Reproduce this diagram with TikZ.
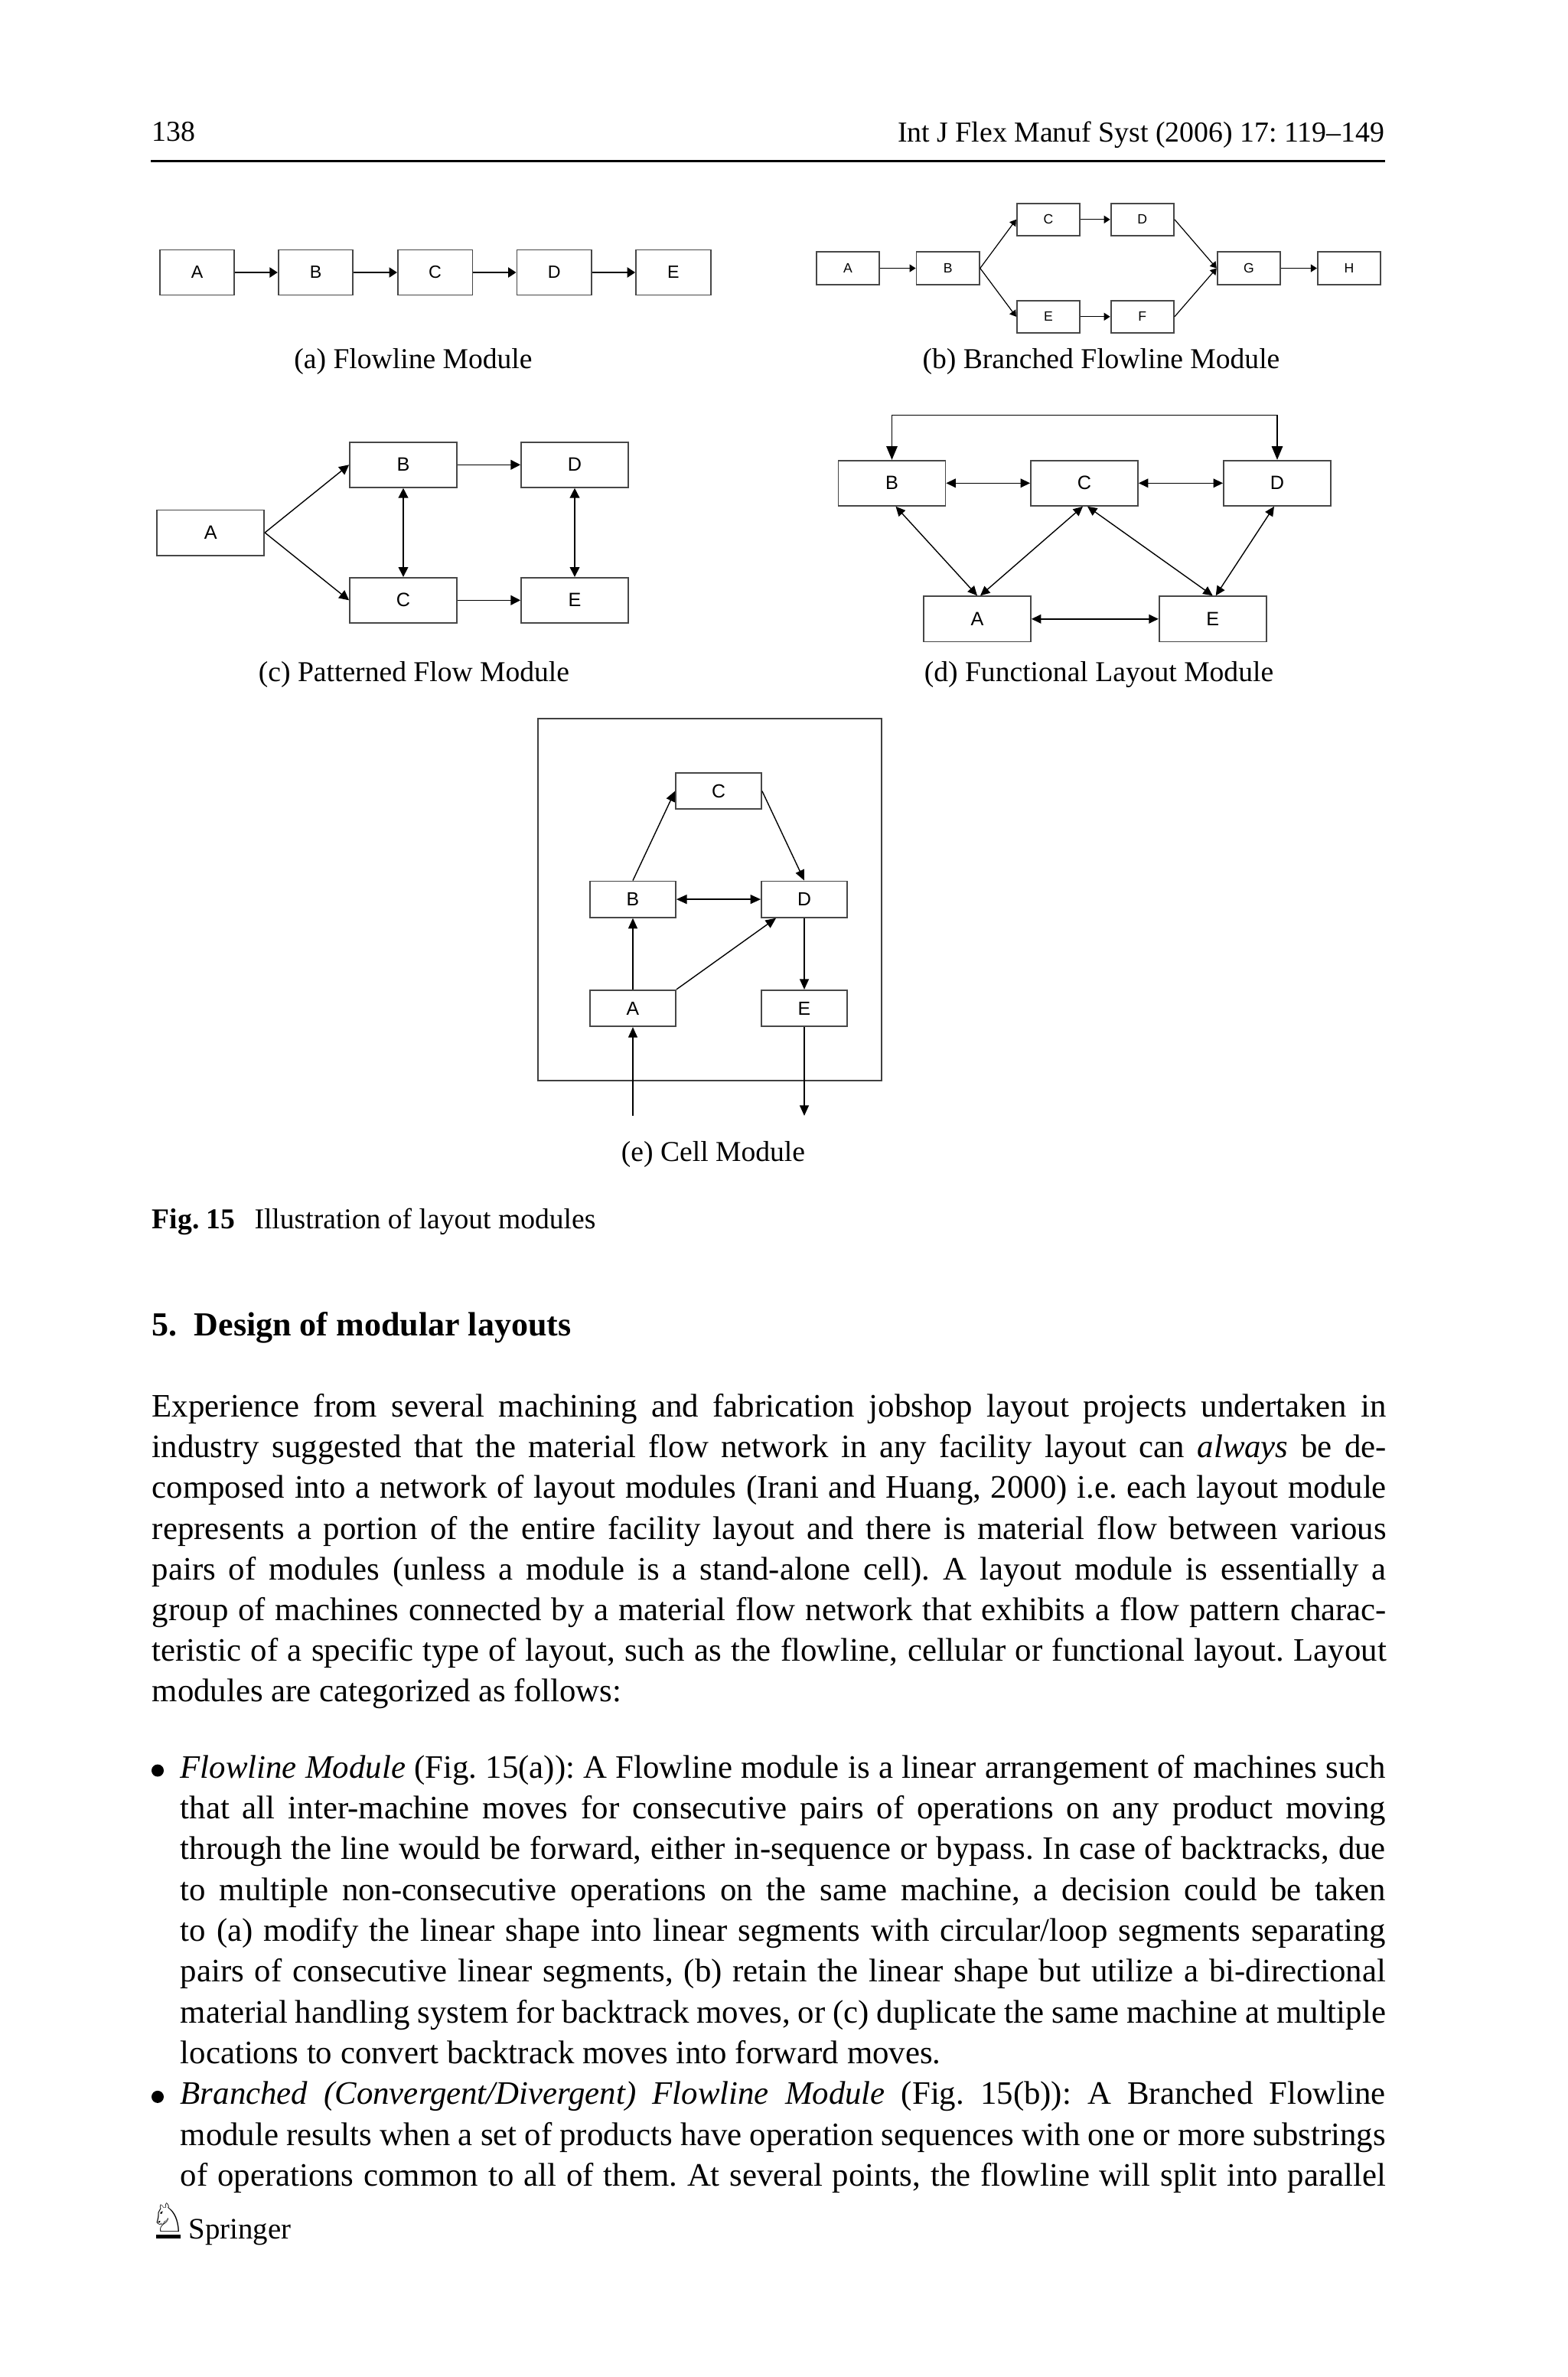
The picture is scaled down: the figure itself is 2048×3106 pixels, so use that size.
\documentclass[tikz,border=0pt]{standalone}
\usepackage{fontspec}
\setmainfont{Liberation Serif}
\setsansfont{Liberation Sans}
\newfontfamily\symfnt{DejaVu Sans}
\usetikzlibrary{arrows.meta,calc}
\newlength\tw \setlength\tw{403.25pt}
\newlength\iw \setlength\iw{393.75pt}
\newcommand\jl[2]{\makebox[#1][s]{\spaceskip=0.25em plus 1em minus 0.13em\relax #2}}
\newcommand\nl[1]{{\spaceskip=0.25em plus 0.1em minus 0.05em\relax #1}}
\frenchspacing
\begin{document}
\begin{tikzpicture}[x=0.25pt,y=-0.25pt,
  bx/.style={draw=black!72, line width=0.45pt, inner sep=0pt, fill=white},
  bxa/.style={bx, minimum width=24.4pt, minimum height=14.75pt, font=\fontsize{5.8pt}{6pt}\sffamily},
  bxb/.style={bx, minimum width=20.6pt, minimum height=10.6pt, font=\fontsize{4.4pt}{5pt}\sffamily},
  bxc/.style={bx, minimum width=35pt, minimum height=14.8pt, font=\fontsize{6.3pt}{7pt}\sffamily},
  bxe/.style={bx, minimum width=28pt, minimum height=11.85pt, font=\fontsize{6.2pt}{7pt}\sffamily},
  arA/.style={-{Triangle[length=2.6pt,width=3.3pt]}, line width=0.4pt},
  arB/.style={-{Triangle[length=2pt,width=2.5pt]}, line width=0.3pt},
  arC/.style={-{Triangle[length=3.2pt,width=3.2pt]}, line width=0.35pt},
  dbC/.style={{Triangle[length=3.2pt,width=3.2pt]}-{Triangle[length=3.2pt,width=3.2pt]}, line width=0.35pt},
  dbD/.style={{Triangle[length=3.1pt,width=2.9pt]}-{Triangle[length=3.1pt,width=2.9pt]}, line width=0.35pt},
  dbDt/.style={{Triangle[length=4.4pt,width=3.6pt]}-{Triangle[length=4.4pt,width=3.6pt]}, line width=0.35pt},
  arE/.style={-{Triangle[length=3.4pt,width=3pt]}, line width=0.35pt},
  dbE/.style={{Triangle[length=3.4pt,width=3pt]}-{Triangle[length=3.4pt,width=3pt]}, line width=0.35pt},
  subcap/.style={anchor=base, inner sep=0pt, font=\fontsize{9.4pt}{11pt}\selectfont},
  txt/.style={anchor=base west, inner sep=0pt, font=\fontsize{10.7pt}{13.3pt}\selectfont},
  hdr/.style={inner sep=0pt, font=\fontsize{9.45pt}{11pt}\selectfont},
  bul/.style={circle, fill=black, inner sep=0pt, minimum size=4pt}
]
\fill[white] (0,0) rectangle (2048,3106);
\useasboundingbox (0,0) rectangle (2048,3106);

% header
\node[hdr, anchor=base west] (pg) at (198,184.5) {138};
\node[hdr, anchor=base east] (jr) at (1810,185.5) {Int J Flex Manuf Syst (2006) 17: 119--149};
\draw[line width=0.75pt] (197,210.7) -- (1810,210.7);

% (a) Flowline
\node[bxa] (aA) at (257.5,356) {A};
\node[bxa] (aB) at (412.5,356) {B};
\node[bxa] (aC) at (568.6,356) {C};
\node[bxa] (aD) at (724.2,356) {D};
\node[bxa] (aE) at (879.8,356) {E};
\draw[arA] (aA) -- (aB);
\draw[arA] (aB) -- (aC);
\draw[arA] (aC) -- (aD);
\draw[arA] (aD) -- (aE);
\node[subcap] (capa) at (540,481.7) {(a) Flowline Module};

% (b) Branched flowline
\node[bxb] (bA) at (1108,350.5) {A};
\node[bxb] (bB) at (1238.7,350.5) {B};
\node[bxb] (bC) at (1370,286.8) {C};
\node[bxb] (bD) at (1492.8,286.8) {D};
\node[bxb] (bE) at (1370,413.8) {E};
\node[bxb] (bF) at (1492.8,413.8) {F};
\node[bxb] (bG) at (1631.9,350.5) {G};
\node[bxb] (bH) at (1763,350.5) {H};
\draw[arB] (bA) -- (bB);
\draw[arB] (bB.east) -- (bC.west);
\draw[arB] (bB.east) -- (bE.west);
\draw[arB] (bC) -- (bD);
\draw[arB] (bE) -- (bF);
\draw[arB] (bD.east) -- (bG.west);
\draw[arB] (bF.east) -- (bG.west);
\draw[arB] (bG) -- (bH);
\node[subcap] (capb) at (1439,481.7) {(b) Branched Flowline Module};

% (c) Patterned flow
\node[bxc] (cA) at (275.2,696) {A};
\node[bxc] (cB) at (527,607.3) {B};
\node[bxc] (cD) at (751,607.3) {D};
\node[bxc] (cC) at (527,784.3) {C};
\node[bxc] (cE) at (751,784.3) {E};
\draw[arC] (cA.east) -- (cB.west);
\draw[arC] (cA.east) -- (cC.west);
\draw[arC] (cB) -- (cD);
\draw[arC] (cC) -- (cE);
\draw[dbC] (cB) -- (cC);
\draw[dbC] (cD) -- (cE);
\node[subcap] (capc) at (541,890) {(c) Patterned Flow Module};

% (d) Functional layout
\node[bxc] (dB) at (1165.5,631.3) {B};
\node[bxc] (dC) at (1417,631.3) {C};
\node[bxc] (dD) at (1669,631.3) {D};
\node[bxc] (dA) at (1277,808.8) {A};
\node[bxc] (dE) at (1584.7,808.8) {E};
\coordinate (dtop) at (1417,542.7);
\draw[dbDt] (dB.north) |- (dtop) -| (dD.north);
\draw[dbD] (dB) -- (dC);
\draw[dbD] (dC) -- (dD);
\draw[dbD] (dA) -- (dE);
\draw[dbD] ($(dB.south)+(5,0)$) -- (dA.north);
\draw[dbD] ($(dC.south)+(-2,0)$) -- ($(dA.north)+(4,0)$);
\draw[dbD] ($(dC.south)+(4,0)$) -- (dE.north);
\draw[dbD] ($(dD.south)+(-4,0)$) -- ($(dE.north)+(4,0)$);
\node[subcap] (capd) at (1436,890) {(d) Functional Layout Module};

% (e) Cell
\draw[draw=black!75, line width=0.45pt] (703.3,938.7) rectangle (1152,1411.6);
\node[bxe] (eC) at (939,1033.6) {C};
\node[bxe] (eB) at (827,1175.1) {B};
\node[bxe] (eD) at (1051,1175.1) {D};
\node[bxe] (eA) at (827,1317.5) {A};
\node[bxe] (eE) at (1051,1317.5) {E};
\coordinate (ein) at (827,1457.9);
\coordinate (eout) at (1051,1457.9);
\draw[arE] (eB.north) -- (eC.west);
\draw[arE] (eC.east) -- (eD.north);
\draw[dbE] (eB) -- (eD);
\draw[arE] (eA) -- (eB);
\draw[arE] (eA.north east) -- ($(eD.south west)+(20,0)$);
\draw[arE] (eD) -- (eE);
\draw[arE] (ein) -- (eA.south);
\draw[arE] (eE.south) -- (eout);
\node[subcap] (cape) at (932,1517) {(e) Cell Module};

% figure caption and heading
\node[anchor=base west, inner sep=0pt, font=\fontsize{9.4pt}{11pt}\selectfont\bfseries] (figl) at (198,1605) {Fig. 15};
\node[anchor=base west, inner sep=0pt, font=\fontsize{9.4pt}{11pt}\selectfont] (figt) at (331.7,1605) {Illustration of layout modules};
\node[anchor=base west, inner sep=0pt, font=\fontsize{11pt}{13pt}\selectfont\bfseries] (sec) at (198,1745) {5.\ \ Design of modular layouts};

% paragraph
\node[txt] (p1) at (198,1851.7) {\jl{\tw}{Experience from several machining and fabrication jobshop layout projects undertaken in}};
\node[txt] (p2) at (198,1904.8) {\jl{\tw}{industry suggested that the material flow network in any facility layout can \textit{always} be de-}};
\node[txt] (p3) at (198,1957.9) {\jl{\tw}{composed into a network of layout modules (Irani and Huang, 2000) i.e. each layout module}};
\node[txt] (p4) at (198,2011.0) {\jl{\tw}{represents a portion of the entire facility layout and there is material flow between various}};
\node[txt] (p5) at (198,2064.1) {\jl{\tw}{pairs of modules (unless a module is a stand-alone cell). A layout module is essentially a}};
\node[txt] (p6) at (198,2117.2) {\jl{\tw}{group of machines connected by a material flow network that exhibits a flow pattern charac-}};
\node[txt] (p7) at (198,2170.3) {\jl{\tw}{teristic of a specific type of layout, such as the flowline, cellular or functional layout. Layout}};
\node[txt] (p8) at (198,2223.4) {\nl{modules are categorized as follows:}};

% bullet 1
\node[bul] (b1) at (206,2313.5) {};
\node[txt] (i1) at (235,2323.3) {\jl{\iw}{\textit{Flowline Module} (Fig. 15(a)): A Flowline module is a linear arrangement of machines such}};
\node[txt] (i2) at (235,2376.6) {\jl{\iw}{that all inter-machine moves for consecutive pairs of operations on any product moving}};
\node[txt] (i3) at (235,2429.9) {\jl{\iw}{through the line would be forward, either in-sequence or bypass. In case of backtracks, due}};
\node[txt] (i4) at (235,2483.2) {\jl{\iw}{to multiple non-consecutive operations on the same machine, a decision could be taken}};
\node[txt] (i5) at (235,2536.5) {\jl{\iw}{to (a) modify the linear shape into linear segments with circular/loop segments separating}};
\node[txt] (i6) at (235,2589.8) {\jl{\iw}{pairs of consecutive linear segments, (b) retain the linear shape but utilize a bi-directional}};
\node[txt] (i7) at (235,2643.1) {\jl{\iw}{material handling system for backtrack moves, or (c) duplicate the same machine at multiple}};
\node[txt] (i8) at (235,2696.4) {\nl{locations to convert backtrack moves into forward moves.}};

% bullet 2
\node[bul] (b2) at (206,2739.9) {};
\node[txt] (j1) at (235,2749.7) {\jl{\iw}{\textit{Branched (Convergent/Divergent) Flowline Module} (Fig. 15(b)): A Branched Flowline}};
\node[txt] (j2) at (235,2803.0) {\jl{\iw}{module results when a set of products have operation sequences with one or more substrings}};
\node[txt] (j3) at (235,2856.3) {\jl{\iw}{of operations common to all of them. At several points, the flowline will split into parallel}};

% Springer logo
\node[anchor=base west, inner sep=0pt, font=\fontsize{13pt}{14pt}\symfnt] (logo) at (196,2916) {♘};
\fill (204,2920) rectangle (236,2925);
\node[anchor=base west, inner sep=0pt, font=\fontsize{9.7pt}{11pt}\selectfont] (spr) at (246,2925) {Springer};
\end{tikzpicture}
\end{document}
